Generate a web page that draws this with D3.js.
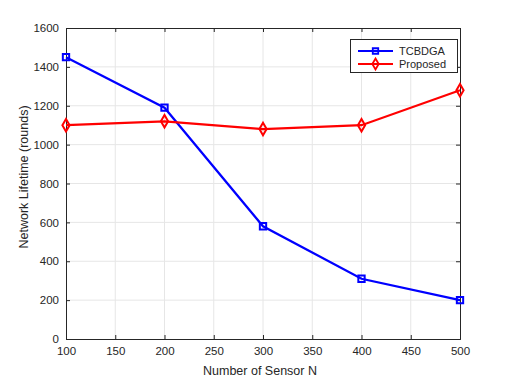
<!DOCTYPE html>
<html>
<head>
<meta charset="utf-8">
<script src="https://cdn.jsdelivr.net/npm/d3@7"></script>
<style>
  body { margin: 0; background: #fff; }
  text { font-family: "Liberation Sans", Arial, sans-serif; }
</style>
</head>
<body>
<script>
const sensors = [100, 200, 300, 400, 500];
const tcbdga = [1450, 1190, 580, 310, 200];
const proposed = [1100, 1120, 1080, 1100, 1280];
const xTicks = [100, 150, 200, 250, 300, 350, 400, 450, 500];
const yTicks = [0, 200, 400, 600, 800, 1000, 1200, 1400, 1600];

const width = 508, height = 381;
const margin = { top: 28, right: 48, bottom: 42, left: 66 };

const svg = d3.select('body').append('svg')
  .attr('width', width)
  .attr('height', height);

const x = d3.scaleLinear().domain([100, 500]).range([margin.left, width - margin.right]);
const y = d3.scaleLinear().domain([0, 1600]).range([height - margin.bottom, margin.top]);

// grid
svg.append('g').selectAll('line')
  .data(xTicks.slice(1, -1))
  .join('line')
  .attr('x1', d => x(d)).attr('x2', d => x(d))
  .attr('y1', y(0)).attr('y2', y(1600))
  .attr('stroke', '#e6e6e6');
svg.append('g').selectAll('line')
  .data(yTicks.slice(1, -1))
  .join('line')
  .attr('x1', x(100)).attr('x2', x(500))
  .attr('y1', d => y(d)).attr('y2', d => y(d))
  .attr('stroke', '#e6e6e6');

// axes (ticks inward, MATLAB style box)
const axisColor = '#262626';
const fmt = d3.format('d');
const xb = svg.append('g').attr('transform', `translate(0,${y(0)})`)
  .call(d3.axisBottom(x).tickValues(xTicks).tickFormat(fmt).tickSize(-4).tickPadding(8));
const xt = svg.append('g').attr('transform', `translate(0,${y(1600)})`)
  .call(d3.axisTop(x).tickValues(xTicks).tickSize(-4).tickFormat(''));
const yl = svg.append('g').attr('transform', `translate(${x(100)},0)`)
  .call(d3.axisLeft(y).tickValues(yTicks).tickFormat(fmt).tickSize(-4).tickPadding(7));
const yr = svg.append('g').attr('transform', `translate(${x(500)},0)`)
  .call(d3.axisRight(y).tickValues(yTicks).tickSize(-4).tickFormat(''));
[xb, xt, yl, yr].forEach(g => {
  g.select('.domain').attr('stroke', axisColor);
  g.selectAll('line').attr('stroke', axisColor);
  g.selectAll('text').attr('fill', axisColor).style('font-size', '11.5px')
    .style('font-family', '"Liberation Sans", Arial, sans-serif');
});

// labels
svg.append('text')
  .attr('x', 260).attr('y', 375)
  .attr('text-anchor', 'middle').attr('fill', axisColor)
  .style('font-size', '12.5px')
  .text('Number of Sensor N');
svg.append('text')
  .attr('transform', `translate(28,177) rotate(-90)`)
  .attr('text-anchor', 'middle').attr('fill', axisColor)
  .style('font-size', '12.5px')
  .text('Network Lifetime (rounds)');

const line = d3.line().x((d, i) => x(sensors[i])).y(d => y(d));

const series = [
  { name: 'TCBDGA', values: tcbdga, color: '#0000ff', marker: d3.symbolSquare },
  { name: 'Proposed', values: proposed, color: '#ff0000', marker: d3.symbolDiamond }
];

series.forEach(s => {
  svg.append('path')
    .datum(s.values)
    .attr('d', line)
    .attr('fill', 'none')
    .attr('stroke', s.color)
    .attr('stroke-width', 2.2);
  svg.append('g').selectAll('path')
    .data(s.values)
    .join('path')
    .attr('transform', (d, i) => `translate(${x(sensors[i])},${y(d)})`)
    .attr('d', d3.symbol().type(s.marker).size(s.marker === d3.symbolSquare ? 40 : 45))
    .attr('fill', 'none')
    .attr('stroke', s.color)
    .attr('stroke-width', 2);
});

// legend
const lg = svg.append('g');
lg.append('rect')
  .attr('x', 350.5).attr('y', 39.5).attr('width', 107).attr('height', 33)
  .attr('fill', '#fff').attr('stroke', axisColor);
series.forEach((s, i) => {
  const ly = 51 + i * 13;
  lg.append('line')
    .attr('x1', 358).attr('x2', 393).attr('y1', ly).attr('y2', ly)
    .attr('stroke', s.color).attr('stroke-width', 2.2);
  lg.append('path')
    .attr('transform', `translate(375.5,${ly})`)
    .attr('d', d3.symbol().type(s.marker).size(s.marker === d3.symbolSquare ? 30 : 35))
    .attr('fill', 'none').attr('stroke', s.color).attr('stroke-width', 1.8);
  lg.append('text')
    .attr('x', 399).attr('y', ly + 4)
    .attr('fill', axisColor).style('font-size', '11px')
    .text(s.name);
});
</script>
</body>
</html>
